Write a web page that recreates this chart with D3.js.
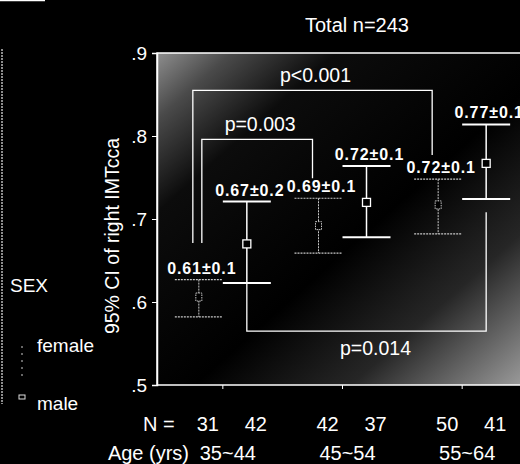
<!DOCTYPE html>
<html>
<head>
<meta charset="utf-8">
<script src="https://cdn.jsdelivr.net/npm/d3@7/dist/d3.min.js"></script>
<style>
  body { margin: 0; background: #000; }
  svg text { fill: #fff; font-family: 'Liberation Sans', Arial, sans-serif; }
</style>
</head>
<body>
<div id="chart"></div>
<script>
// chart values
var ageGroups = ["35~44", "45~54", "55~64"];
var sexes = ["female", "male"];
var barAge = ["35~44", "35~44", "45~54", "45~54", "55~64", "55~64"];
var barSex = ["female", "male", "female", "male", "female", "male"];
var nCounts = [31, 42, 42, 37, 50, 41];
var ciLow  = [0.582, 0.623, 0.659, 0.678, 0.682, 0.724];
var ciMean = [0.606, 0.670, 0.692, 0.720, 0.717, 0.767];
var ciHigh = [0.627, 0.721, 0.725, 0.764, 0.748, 0.814];
var meanLabels = ["0.61\u00b10.1", "0.67\u00b10.2", "0.69\u00b10.1", "0.72\u00b10.1", "0.72\u00b10.1", "0.77\u00b10.1"];
var yTicks = [0.5, 0.6, 0.7, 0.8, 0.9];

// significance brackets (bar index from / to, levels in data units)
var pLabels = ["p=0.003", "p<0.001", "p=0.014"];
var pFrom = [0, 0, 1];
var pTo = [2, 4, 5];
var pLevel = [0.796, 0.855, 0.565];
var pFromEnd = [0.671, 0.671, 0.623];
var pToEnd = [0.749, 0.777, 0.708];

var W = 520, H = 464;
var plotL = 157, plotT = 53, plotB = 385, plotR = 530;

var svg = d3.select('#chart').append('svg')
  .attr('width', W).attr('height', H);

svg.append('rect').attr('width', W).attr('height', H).attr('fill', '#000');

var defs = svg.append('defs');
var grad = defs.append('linearGradient').attr('id', 'bg')
  .attr('x1', 0).attr('y1', 0).attr('x2', 1).attr('y2', 1);
[[0, '#8e8e8e'], [0.1, '#4a4a4a'], [0.24, '#0c0c0c'], [0.55, '#000'], [0.76, '#262626'], [1, '#a0a0a0']]
  .forEach(function(s) {
    grad.append('stop').attr('offset', s[0]).attr('stop-color', s[1]);
  });

var y = d3.scaleLinear().domain([0.5, 0.9]).range([plotB, plotT]);
var xGroup = d3.scaleBand().domain(ageGroups).range([163, 522]);
var xSex = d3.scalePoint().domain(sexes).range([-24, 24]);
function gx(a) { return xGroup(a) + xGroup.bandwidth() / 2; }
function bx(i) { return gx(barAge[i]) + xSex(barSex[i]); }

// plot area
svg.append('rect')
  .attr('x', plotL).attr('y', plotT)
  .attr('width', plotR - plotL).attr('height', plotB - plotT)
  .attr('fill', 'url(#bg)')
  .attr('stroke', '#fff').attr('stroke-width', 1.5);

// y axis
var yAxis = svg.append('g')
  .attr('transform', 'translate(' + plotL + ',0)')
  .call(d3.axisLeft(y).tickValues(yTicks).tickSize(5).tickPadding(5)
    .tickFormat(function(d) { return d3.format('.1f')(d).replace(/^0/, ''); }));
yAxis.select('.domain').attr('stroke', '#fff').attr('stroke-width', 1.5);
yAxis.selectAll('line').attr('stroke', '#fff');
yAxis.selectAll('text').attr('font-size', '19px').style('fill', '#fff')
  .style('font-family', "'Liberation Sans', Arial, sans-serif");

// x group ticks
svg.selectAll('.xtick').data(ageGroups).enter().append('line')
  .attr('x1', gx).attr('x2', gx)
  .attr('y1', plotB).attr('y2', plotB + 4)
  .attr('stroke', '#fff');

svg.append('text')
  .attr('transform', 'translate(119,236) rotate(-90)')
  .attr('text-anchor', 'middle')
  .attr('font-size', '19.5px')
  .text('95% CI of right IMTcca');

svg.append('text')
  .attr('x', 357).attr('y', 32)
  .attr('text-anchor', 'middle')
  .attr('font-size', '20px')
  .text('Total n=243');

// brackets
var bracketDx = [[3, -6], [-6, -6], [0, 0]];
pLabels.forEach(function(lab, k) {
  var x1 = bx(pFrom[k]) + bracketDx[k][0];
  var x2 = bx(pTo[k]) + bracketDx[k][1];
  var yl = y(pLevel[k]);
  svg.append('path')
    .attr('d', 'M' + x1 + ',' + y(pFromEnd[k]) + 'V' + yl + 'H' + x2 + 'V' + y(pToEnd[k]))
    .attr('fill', 'none').attr('stroke', '#fff').attr('stroke-width', 1.3);
  var below = pLevel[k] < pFromEnd[k];
  svg.append('text')
    .attr('x', (x1 + x2) / 2 + (below ? 9 : 3))
    .attr('y', below ? yl + 24 : yl - 8)
    .attr('text-anchor', 'middle')
    .attr('font-size', '19.5px')
    .text(lab);
});

// error bars
var capHalf = 24;
var bars = svg.selectAll('.bar').data(nCounts).enter().append('g');
bars.each(function(d, i) {
  var g = d3.select(this);
  var x = bx(i);
  var female = barSex[i] === 'female';
  var col = female ? '#c8c8c8' : '#fff';
  g.append('line')
    .attr('x1', x).attr('x2', x)
    .attr('y1', y(ciHigh[i])).attr('y2', y(ciLow[i]))
    .attr('stroke', col).attr('stroke-width', female ? 1 : 1.5)
    .attr('stroke-dasharray', female ? '2,1' : null);
  [ciHigh[i], ciLow[i]].forEach(function(v) {
    g.append('line')
      .attr('x1', x - capHalf).attr('x2', x + capHalf)
      .attr('y1', y(v)).attr('y2', y(v))
      .attr('stroke', col).attr('stroke-width', female ? 1.2 : 2)
      .attr('stroke-dasharray', female ? '2,1' : null);
  });
  g.append('rect')
    .attr('x', x - (female ? 3 : 4)).attr('y', y(ciMean[i]) - 4)
    .attr('width', female ? 6 : 8).attr('height', 8)
    .attr('fill', '#000')
    .attr('stroke', col).attr('stroke-width', female ? 1 : 1.3)
    .attr('stroke-dasharray', female ? '1.5,1' : null);
  g.append('text')
    .attr('x', x + 3).attr('y', y(ciHigh[i]) - 6)
    .attr('text-anchor', 'middle')
    .attr('font-size', '16px').attr('font-weight', 'bold')
    .attr('letter-spacing', '0.9px')
    .text(meanLabels[i]);
  g.append('text')
    .attr('x', x + 9).attr('y', 431)
    .attr('text-anchor', 'middle')
    .attr('font-size', '20px')
    .text(d);
});

svg.append('text').attr('x', 143).attr('y', 431).attr('font-size', '20px').text('N =');
svg.append('text').attr('x', 189).attr('y', 460).attr('text-anchor', 'end')
  .attr('font-size', '20px').text('Age (yrs)');
svg.selectAll('.agelab').data(ageGroups).enter().append('text')
  .attr('x', function(d) { return gx(d) + 5; })
  .attr('y', 460)
  .attr('text-anchor', 'middle')
  .attr('font-size', '20px')
  .text(function(d) { return d; });

// legend
svg.append('line').attr('x1', 0).attr('x2', 45).attr('y1', 0.5).attr('y2', 0.5)
  .attr('stroke', '#fff').attr('stroke-width', 1.5);
svg.append('line').attr('x1', 2).attr('x2', 2).attr('y1', 49).attr('y2', 404)
  .attr('stroke', '#bbb').attr('stroke-width', 1.5).attr('stroke-dasharray', '2,1');
svg.append('text').attr('x', 10).attr('y', 292).attr('font-size', '19px').text('SEX');
svg.append('text').attr('x', 37).attr('y', 352).attr('font-size', '19px').text('female');
svg.append('text').attr('x', 37).attr('y', 410).attr('font-size', '19px').text('male');
svg.append('line').attr('x1', 22).attr('x2', 22).attr('y1', 346).attr('y2', 376)
  .attr('stroke', '#aaa').attr('stroke-width', 1.2).attr('stroke-dasharray', '2,5');
svg.append('rect').attr('x', 19).attr('y', 395).attr('width', 6).attr('height', 4)
  .attr('fill', 'none').attr('stroke', '#ddd').attr('stroke-width', 1);
</script>
</body>
</html>
